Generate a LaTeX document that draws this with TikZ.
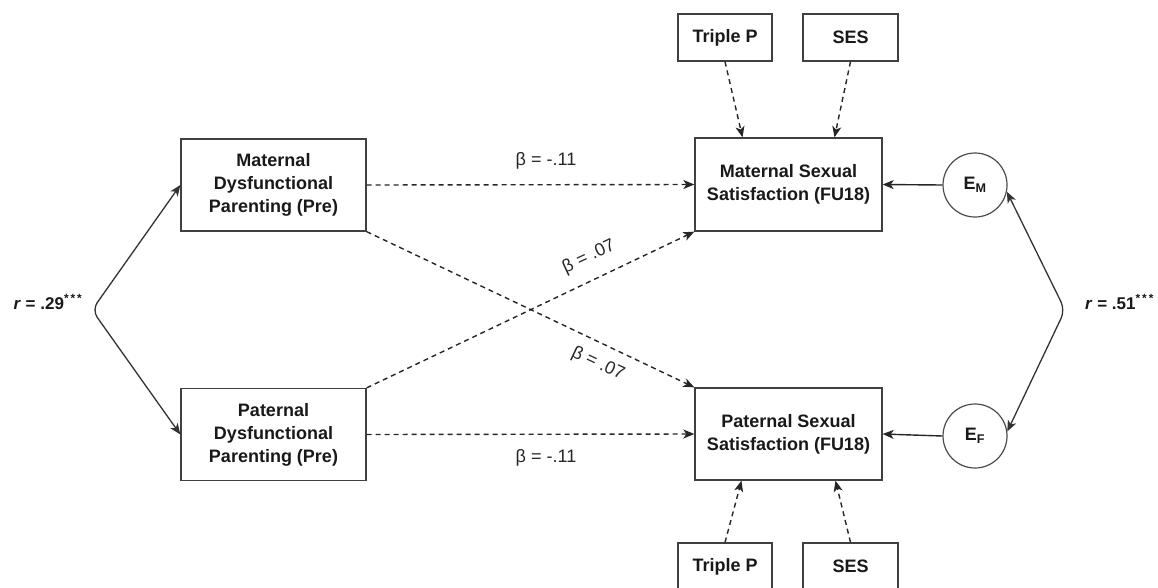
\documentclass[tikz,border=0pt]{standalone}
\usepackage{fontspec}
\setmainfont{Liberation Sans}
\usetikzlibrary{arrows.meta,calc}
\begin{document}
\begin{tikzpicture}[x=1pt,y=-1pt,
  box/.style={draw=black!75, line width=1.3pt, fill=white, align=center, inner sep=0pt,
    text=black!90, font=\bfseries\fontsize{18}{23}\selectfont},
  ebox/.style={draw=black!70, line width=1.2pt, fill=white, circle, minimum size=64pt, inner sep=0pt,
    text=black!90, font=\bfseries\fontsize{18}{22}\selectfont},
  lab/.style={text=black!85, font=\fontsize{18}{22}\selectfont, inner sep=0pt},
  rlab/.style={text=black!90, font=\bfseries\fontsize{17}{22}\selectfont, inner sep=0pt},
  tip/.style={},
  conn/.style={draw=black!85, line width=1.4pt, -{Stealth[length=11pt,width=9pt,inset=3pt]}},
  dconn/.style={conn, dash pattern=on 5pt off 4pt},
  both/.style={draw=black!80, line width=1.3pt, rounded corners=9pt,
    {Stealth[length=11pt,width=9pt,inset=3pt]}-{Stealth[length=11pt,width=9pt,inset=3pt]}}
]
\useasboundingbox (0,0) rectangle (1158,587);
\clip (0,0) rectangle (1158,587);

% main boxes
\node[box, minimum width=185pt, minimum height=92pt] (MD) at (273.5,185) {Maternal\\Dysfunctional\\Parenting (Pre)};
\node[box, minimum width=185pt, minimum height=92pt] (PD) at (273.5,434.5) {Paternal\\Dysfunctional\\Parenting (Pre)};
\node[box, minimum width=187pt, minimum height=93pt] (MS) at (788.5,184.5) {Maternal Sexual\\Satisfaction (FU18)};
\node[box, minimum width=187pt, minimum height=92pt] (PS) at (788.5,434) {Paternal Sexual\\Satisfaction (FU18)};

% covariate boxes
\node[box, minimum width=94pt, minimum height=47pt] (TPa) at (725,37.5) {Triple P};
\node[box, minimum width=95pt, minimum height=47pt] (SESa) at (850.5,37.5) {SES};
\node[box, minimum width=94pt, minimum height=47pt] (TPb) at (725,566.5) {Triple P};
\node[box, minimum width=95pt, minimum height=47pt] (SESb) at (850.5,566.5) {SES};

% residuals
\node[ebox] (EM) at (975,185) {E\textsubscript{M}};
\node[ebox] (EF) at (975,436) {E\textsubscript{F}};

% bends for correlations
\coordinate (L) at (92,310);
\coordinate (R) at (1065,310);

% paths
\draw[dconn] (MD.east) -- (MS.west);
\draw[dconn] (PD.east) -- (PS.west);
\draw[dconn] (MD.south east) -- (PS.north west);
\draw[dconn] (PD.north east) -- (MS.south west);

\draw[dconn] (TPa.south) -- ($(MS.north)+(-46,0)$);
\draw[dconn] (SESa.south) -- ($(MS.north)+(46,0)$);
\draw[dconn] (TPb.north) -- ($(PS.south)+(-47,0)$);
\draw[dconn] (SESb.north) -- ($(PS.south)+(47,0)$);

\draw[conn] (EM.west) -- (MS.east);
\draw[conn] (EF.west) -- (PS.east);

\draw[both] (MD.west) -- (L) -- (PD.west);
\draw[both] (EM.-12) -- (R) -- (EF.8);

% labels
\node[lab] (b1) at (546,161) {β = -.11};
\node[lab] (b2) at (546,458) {β = -.11};
\node[lab, rotate=25] (b3) at (589,257) {β = .07};
\node[lab, rotate=-25] (b4) at (598,364) {β = .07};

\node[rlab] (r1) at (48,302) {\textit{r} = .29\textsuperscript{*\,*\,*}};
\node[rlab, anchor=west] (r2) at (1085,302) {\textit{r} = .51\textsuperscript{*\,*\,*}};
\end{tikzpicture}
\end{document}
